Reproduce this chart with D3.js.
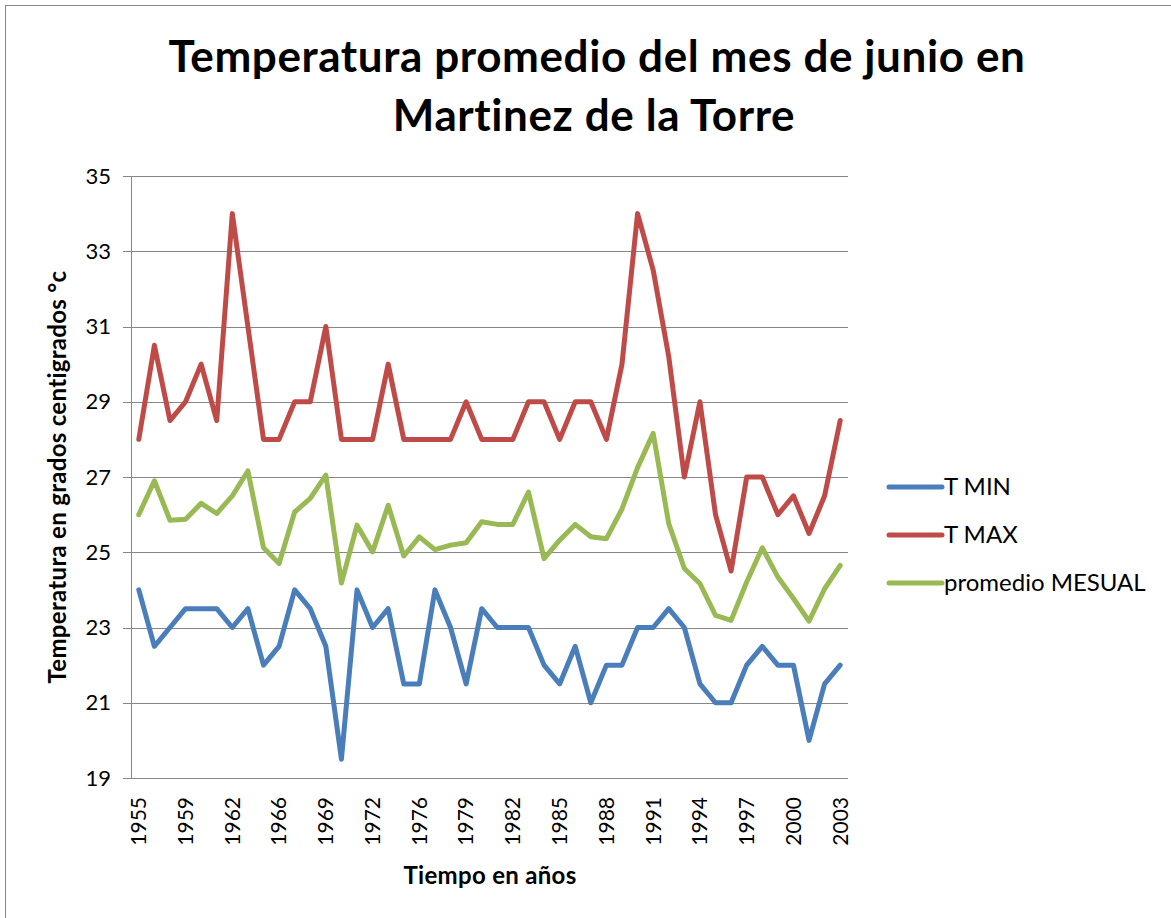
<!DOCTYPE html>
<html>
  <head>
    <meta charset="utf-8">
    <style>
      body {
          margin: 0;
          background: #fff;
          font-family: Lato, "Open Sans", sans-serif;
      }
      .grid line {
          stroke: #868686;
          stroke-width: 1;
          shape-rendering: crispEdges;
      }
      .line {
          fill: none;
          stroke-width: 5;
          stroke-linejoin: round;
          stroke-linecap: round;
      }
    </style>
  </head>
  <body>
    <script src="https://d3js.org/d3.v7.min.js"></script>
    <script>
      // years on the category axis (only every 3rd one gets a label)
      var years = [1955,1956,1957,1959,1960,1961,1962,1963,1964,1966,1967,1968,1969,1970,1971,1972,1973,1974,
                   1976,1977,1978,1979,1980,1981,1982,1983,1984,1985,1986,1987,1988,1989,1990,1991,1992,1993,
                   1994,1995,1996,1997,1998,1999,2000,2001,2002,2003];

      var tMin = [24,22.5,23,23.5,23.5,23.5,23,23.5,22,22.5,24,23.5,22.5,19.5,24,23,23.5,21.5,
                  21.5,24,23,21.5,23.5,23,23,23,22,21.5,22.5,21,22,22,23,23,23.5,23,
                  21.5,21,21,22,22.5,22,22,20,21.5,22];

      var tMax = [28,30.5,28.5,29,30,28.5,34,31,28,28,29,29,31,28,28,28,30,28,
                  28,28,28,29,28,28,28,29,29,28,29,29,28,30,34,32.5,30.2,27,
                  29,26,24.5,27,27,26,26.5,25.5,26.5,28.5];

      var promedio = [26,26.9,25.85,25.88,26.3,26.03,26.5,27.16,25.12,24.7,26.07,26.43,27.05,24.18,25.72,25.01,26.25,24.9,
                      25.41,25.07,25.19,25.25,25.81,25.74,25.74,26.6,24.83,25.32,25.74,25.41,25.36,26.15,27.25,28.16,25.76,24.57,
                      24.17,23.32,23.19,24.21,25.12,24.34,23.77,23.17,24.03,24.65];

      var yTicks = [19,21,23,25,27,29,31,33,35];

      var seriesNames = ["T MIN", "T MAX", "promedio MESUAL"];
      var seriesColors = ["#4A7EBB", "#BE4B48", "#98B954"];
      var seriesData = [tMin, tMax, promedio];

      var width = 1171, height = 918;
      var margin = {top: 176, left: 131, right: 323, bottom: 140};
      var plotW = width - margin.left - margin.right,
          plotH = height - margin.top - margin.bottom;

      var svg = d3.select("body").append("svg")
          .attr("width", width)
          .attr("height", height);

      // chart frame
      svg.append("rect")
          .attr("x", 5.5).attr("y", 5.5)
          .attr("width", 1200).attr("height", 1000)
          .attr("fill", "none")
          .attr("stroke", "#868686");

      // title
      var title = svg.append("text")
          .attr("text-anchor", "middle")
          .attr("font-weight", "bold")
          .attr("font-size", "44px")
          .attr("letter-spacing", "0.6px")
          .attr("fill", "#000");
      title.append("tspan").attr("x", 597).attr("y", 72).text("Temperatura promedio del mes de junio en");
      title.append("tspan").attr("x", 594).attr("y", 131).text("Martinez de la Torre");

      var g = svg.append("g")
          .attr("transform", "translate(" + margin.left + "," + margin.top + ")");

      var x = d3.scaleBand()
          .domain(years)
          .range([0, plotW]);

      var y = d3.scaleLinear()
          .domain([19, 35])
          .range([plotH, 0]);

      // horizontal gridlines
      g.append("g").attr("class", "grid")
          .selectAll("line")
          .data(yTicks)
          .enter().append("line")
          .attr("x1", -8)
          .attr("x2", plotW)
          .attr("y1", function(d) { return Math.round(y(d)) + 0.5; })
          .attr("y2", function(d) { return Math.round(y(d)) + 0.5; });

      // y axis line
      g.append("g").attr("class", "grid")
          .append("line")
          .attr("x1", 0.5).attr("x2", 0.5)
          .attr("y1", 0).attr("y2", plotH);

      // y tick labels
      g.append("g")
          .selectAll("text")
          .data(yTicks)
          .enter().append("text")
          .attr("x", -20)
          .attr("y", function(d) { return y(d); })
          .attr("dy", "0.35em")
          .attr("text-anchor", "end")
          .attr("font-size", "22px")
          .attr("fill", "#000")
          .text(function(d) { return d; });

      // x tick labels, rotated
      g.append("g")
          .selectAll("text")
          .data(years.filter(function(d, i) { return i % 3 === 0; }))
          .enter().append("text")
          .attr("transform", function(d) {
              return "translate(" + (x(d) + x.bandwidth() / 2) + "," + (plotH + 19) + ") rotate(-90)";
          })
          .attr("dy", "0.35em")
          .attr("text-anchor", "end")
          .attr("font-size", "21px")
          .attr("fill", "#000")
          .text(function(d) { return d; });

      // axis titles
      svg.append("text")
          .attr("transform", "translate(66," + (margin.top + plotH / 2) + ") rotate(-90)")
          .attr("text-anchor", "middle")
          .attr("font-weight", "bold")
          .attr("font-size", "24px")
          .attr("letter-spacing", "0.3px")
          .text("Temperatura en grados centigrados °c");

      svg.append("text")
          .attr("x", 490)
          .attr("y", 884)
          .attr("text-anchor", "middle")
          .attr("font-weight", "bold")
          .attr("font-size", "24px")
          .attr("letter-spacing", "0.3px")
          .text("Tiempo en años");

      // series lines
      var line = d3.line()
          .x(function(d, i) { return x(years[i]) + x.bandwidth() / 2; })
          .y(function(d) { return y(d); });

      g.selectAll(".line")
          .data(seriesData)
          .enter().append("path")
          .attr("class", "line")
          .attr("stroke", function(d, i) { return seriesColors[i]; })
          .attr("d", line);

      // legend
      var legend = svg.append("g")
          .selectAll("g")
          .data(seriesNames)
          .enter().append("g")
          .attr("transform", function(d, i) { return "translate(887," + (487 + i * 48) + ")"; });

      legend.append("line")
          .attr("x1", 2).attr("x2", 55)
          .attr("stroke", function(d, i) { return seriesColors[i]; })
          .attr("stroke-width", 5)
          .attr("stroke-linecap", "round");

      legend.append("text")
          .attr("x", 57)
          .attr("dy", "0.35em")
          .attr("font-size", "24px")
          .attr("fill", "#000")
          .text(function(d) { return d; });
    </script>
  </body>
</html>
